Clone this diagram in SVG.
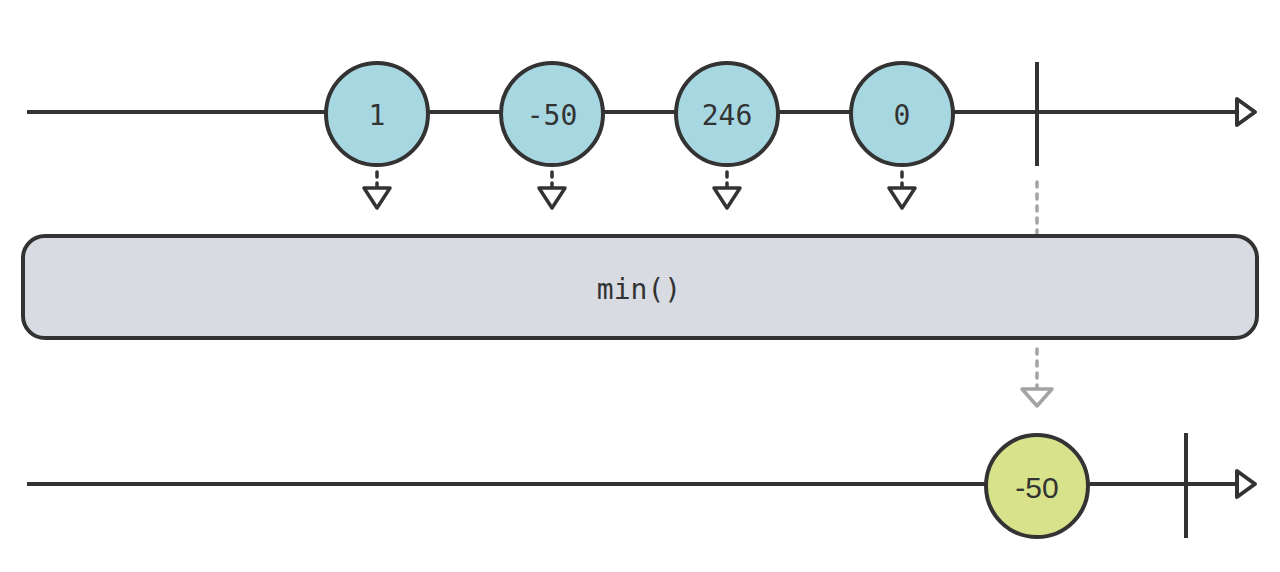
<svg xmlns="http://www.w3.org/2000/svg" width="1280" height="572" viewBox="0 0 1280 572">
<style>
.line{stroke:#333;stroke-width:4;fill:none}
.tick{stroke:#333;stroke-width:4}
.head{fill:#fff;stroke:#333;stroke-width:4;stroke-linejoin:round}
.in{fill:#a7d8e1;stroke:#333;stroke-width:4}
.out{fill:#d7e28b;stroke:#333;stroke-width:4}
.lbl{font-family:"DejaVu Sans Mono","Liberation Mono",monospace;font-size:28px;fill:#333;text-anchor:middle;dominant-baseline:central}
.dash{stroke:#333;stroke-width:3.5;stroke-dasharray:5 6;stroke-linecap:round}
.tri{fill:#fff;stroke:#333;stroke-width:3.5;stroke-linejoin:round}
.gdash{stroke:#a3a3a3;stroke-width:3.5;stroke-dasharray:5 7;stroke-linecap:round;fill:none}
.gtri{fill:#fff;stroke:#a3a3a3;stroke-width:3.5;stroke-linejoin:round}
</style>
<g id="connectors">
<line class="line" x1="27" y1="112" x2="1238" y2="112"/>
<path class="head" d="M1237 99 L1255 112 L1237 125 Z"/>
<line class="tick" x1="1037" y1="62" x2="1037" y2="166"/>
<line class="line" x1="27" y1="484" x2="1238" y2="484"/>
<path class="head" d="M1237 471 L1255 484 L1237 497 Z"/>
<line class="tick" x1="1186" y1="433" x2="1186" y2="538"/>
<line class="dash" x1="377" y1="172" x2="377" y2="188"/>
<path class="tri" d="M364 188 L390 188 L377 208 Z"/>
<line class="dash" x1="552" y1="172" x2="552" y2="188"/>
<path class="tri" d="M539 188 L565 188 L552 208 Z"/>
<line class="dash" x1="727" y1="172" x2="727" y2="188"/>
<path class="tri" d="M714 188 L740 188 L727 208 Z"/>
<line class="dash" x1="902" y1="172" x2="902" y2="188"/>
<path class="tri" d="M889 188 L915 188 L902 208 Z"/>
<line class="gdash" x1="1037" y1="182" x2="1037" y2="240"/>
<line class="gdash" x1="1037" y1="349" x2="1037" y2="388"/>
<path class="gtri" d="M1022 389 L1052 389 L1037 406 Z"/>
</g>
<g id="op">
<rect x="23" y="236" width="1234" height="102" rx="22" fill="#d8dbe2" stroke="#333" stroke-width="4"/>
<text class="lbl" x="639" y="289">min()</text>
</g>
<g id="n1"><circle class="in" cx="377" cy="114" r="51"/><text class="lbl" x="377" y="115">1</text></g>
<g id="n2"><circle class="in" cx="552" cy="114" r="51"/><text class="lbl" x="552" y="115">-50</text></g>
<g id="n3"><circle class="in" cx="727" cy="114" r="51"/><text class="lbl" x="727" y="115">246</text></g>
<g id="n4"><circle class="in" cx="902" cy="114" r="51"/><text class="lbl" x="902" y="115">0</text></g>
<g id="r1"><circle class="out" cx="1037" cy="486" r="51"/><text class="lbl" x="1037" y="487" style="font-family:'Liberation Sans',Arial,sans-serif;font-size:30px">-50</text></g>
</svg>
